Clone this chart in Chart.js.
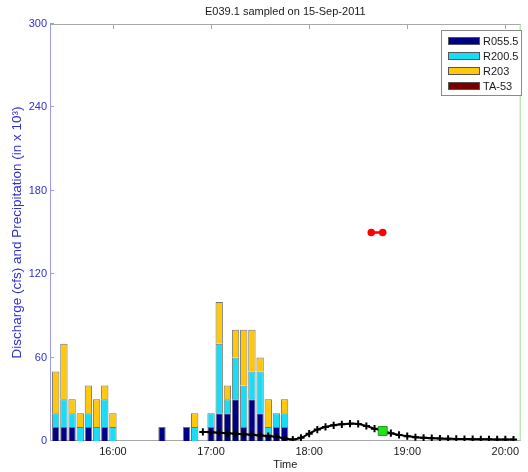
<!DOCTYPE html>
<html>
<head>
<meta charset="utf-8">
<script src="https://cdn.jsdelivr.net/npm/chart.js@4/dist/chart.umd.min.js"></script>
<style>
  html, body { margin: 0; padding: 0; background: #ffffff; }
  #wrap { width: 528px; height: 472px; }
</style>
</head>
<body>
<div id="wrap"><canvas id="c" width="528" height="472"></canvas></div>
<script>
// ---------------- data ----------------
const chartTitle = 'E039.1 sampled on 15-Sep-2011';
const yAxisTitle = 'Discharge (cfs) and Precipitation (in x 10\u00B3)';
const xAxisTitle = 'Time';

const seriesNames = ['R055.5', 'R200.5', 'R203', 'TA-53'];

const barTimes = ['15:25','15:30','15:35','15:40','15:45','15:50','15:55','16:00',
                  '16:30','16:45','16:50',
                  '17:00','17:05','17:10','17:15','17:20','17:25','17:30','17:35','17:40','17:45'];
const r0555 = [10,10,10, 0,10, 0,10, 0,  10,10, 0,  10,20,20,30,10,30,20, 5,10,10];
const r2005 = [10,20,10,10,10,10,20,10,   0, 0,10,  10,50,10,30,30,20,30, 5,10,10];
const r203  = [30,40,10,10,20,20,10,10,   0, 0,10,   0,30,10,20,40,30,10,20, 0,10];
const ta53  = [ 0, 0, 0, 0, 0, 0, 0, 0,   0, 0, 0,   0, 0, 0, 0, 0, 0, 0, 0, 0, 0];

const dischargeTimes = ['16:55','17:00','17:05','17:10','17:15','17:20','17:25','17:30','17:35','17:40',
                        '17:45','17:50','17:55','18:00','18:05','18:10','18:15','18:20','18:25','18:30',
                        '18:35','18:40','18:45','18:50','18:55','19:00','19:05','19:10','19:15','19:20',
                        '19:25','19:30','19:35','19:40','19:45','19:50','19:55','20:00','20:05'];
const dischargeValues = [6.5,6.3,6.0,5.5,5.2,4.8,4.5,4.0,3.5,3.0,
                         1.8,1.0,2.3,5.3,8.2,10.1,11.3,12.0,12.5,12.3,
                         10.8,8.9,7.2,5.6,4.4,3.5,2.7,2.3,2.0,1.8,
                         1.6,1.5,1.4,1.3,1.2,1.2,1.1,1.1,1.0];

const sampleTimes = ['18:38','18:45'];
const sampleValues = [150, 150];

const markerTime = ['18:45'];
const markerValue = [7.2];

const xTickLabels = ['16:00','17:00','18:00','19:00','20:00'];
const yTickValues = [0, 60, 120, 180, 240, 300];
const xRange = ['15:21.5', '20:09.4'];

// ---------------- helpers ----------------
function toMin(s) {
  const p = s.split(':');
  return parseInt(p[0], 10) * 60 + parseFloat(p[1]);
}
function fmt(m) {
  const h = Math.floor(m / 60), mm = Math.round(m - h * 60);
  return String(h).padStart(2, '0') + ':' + String(mm).padStart(2, '0');
}
function pts(times, vals) {
  return times.map((t, i) => ({ x: toMin(t), y: vals[i] === 0 ? null : vals[i] }));
}

const FONT = "'Liberation Sans', Arial, sans-serif";
const BLUE = '#2f2fd0';
const barColors = ['#000088', '#19dcf5', '#ffc80a', '#7a0000'];
const barSeries = [r0555, r2005, r203, ta53];

const datasets = [];
datasets.push({
  type: 'line', label: 'discharge', data: pts(dischargeTimes, dischargeValues),
  borderColor: '#000000', borderWidth: 2, tension: 0.3,
  pointStyle: 'cross', pointRadius: 3.6, pointBorderWidth: 2, pointBorderColor: '#000000',
  stack: 'q', order: 1
});
datasets.push({
  type: 'line', label: 'sample', data: pts(sampleTimes, sampleValues),
  borderColor: '#ff0000', borderWidth: 2.5, pointRadius: 3.8,
  pointBackgroundColor: '#ff0000', pointBorderColor: '#ff0000', pointBorderWidth: 0,
  stack: 's', order: 1
});
datasets.push({
  type: 'line', label: 'marker', data: pts(markerTime, markerValue), showLine: false,
  pointStyle: 'rect', pointRadius: 6.3, pointBackgroundColor: '#22e022',
  pointBorderColor: '#14a014', pointBorderWidth: 1, stack: 'm', order: 0
});
seriesNames.forEach((name, k) => {
  datasets.push({
    type: 'bar', label: name, data: pts(barTimes, barSeries[k]),
    backgroundColor: barColors[k], borderColor: 'rgba(80,80,80,0.8)', borderWidth: 1,
    barPercentage: 0.9, categoryPercentage: 1.0, stack: 'precip', order: 2,
    isLegend: true
  });
});

// ---------------- plugins ----------------
const framePlugin = {
  id: 'frame',
  beforeDatasetsDraw(chart) {
    const { ctx, chartArea: a, scales } = chart;
    ctx.save();
    ctx.lineWidth = 1;
    ctx.strokeStyle = '#a8a8a8';
    ctx.beginPath();
    ctx.moveTo(a.left, a.top + 0.5); ctx.lineTo(a.right, a.top + 0.5);
    ctx.moveTo(a.left, a.bottom - 0.5); ctx.lineTo(a.right, a.bottom - 0.5);
    ctx.stroke();
    ctx.beginPath();
    xTickLabels.forEach(t => {
      const x = Math.round(scales.x.getPixelForValue(toMin(t))) + 0.5;
      ctx.moveTo(x, a.top); ctx.lineTo(x, a.top + 5);
    });
    ctx.stroke();
    ctx.strokeStyle = '#9a9aee';
    ctx.beginPath();
    ctx.moveTo(a.left + 0.5, a.top); ctx.lineTo(a.left + 0.5, a.bottom);
    yTickValues.forEach(v => {
      const y = Math.round(scales.y.getPixelForValue(v)) - 0.5;
      ctx.moveTo(a.left, y); ctx.lineTo(a.left + 4, y);
    });
    ctx.stroke();
    ctx.strokeStyle = '#9ad99a';
    ctx.beginPath();
    ctx.moveTo(a.right - 0.5, a.top); ctx.lineTo(a.right - 0.5, a.bottom);
    ctx.stroke();
    ctx.restore();
  },
  afterDraw(chart) {
    const { ctx, chartArea: a } = chart;
    ctx.save();
    ctx.fillStyle = '#1a1a1a';
    ctx.font = '11px ' + FONT;
    ctx.textAlign = 'center';
    ctx.textBaseline = 'middle';
    ctx.fillText(chartTitle, (a.left + a.right) / 2, 12);
    const bx = 441.5, by = 30.5, bw = 80, bh = 65;
    ctx.fillStyle = '#ffffff';
    ctx.fillRect(bx, by, bw, bh);
    ctx.strokeStyle = '#8a8a8a';
    ctx.lineWidth = 1;
    ctx.strokeRect(bx, by, bw, bh);
    const items = chart.data.datasets.filter(d => d.isLegend);
    items.forEach((d, i) => {
      const cy = 41 + i * 15;
      ctx.fillStyle = d.backgroundColor;
      ctx.fillRect(448, cy - 4, 32, 8);
      ctx.strokeStyle = '#555555';
      ctx.strokeRect(448.5, cy - 3.5, 31, 7);
      ctx.fillStyle = '#1a1a1a';
      ctx.textAlign = 'left';
      ctx.textBaseline = 'middle';
      ctx.font = '11px ' + FONT;
      ctx.fillText(d.label, 483, cy + 0.5);
    });
    ctx.restore();
  }
};

new Chart(document.getElementById('c'), {
  type: 'bar',
  data: { datasets },
  plugins: [framePlugin],
  options: {
    responsive: false,
    animation: false,
    devicePixelRatio: 1,
    layout: { padding: { top: 24, right: 2, left: 0, bottom: 0 } },
    plugins: { legend: { display: false }, title: { display: false }, tooltip: { enabled: false } },
    scales: {
      x: {
        type: 'linear', stacked: true, offset: false,
        min: toMin(xRange[0]), max: toMin(xRange[1]),
        grid: { display: false, drawTicks: false }, border: { display: false },
        afterBuildTicks: s => { s.ticks = xTickLabels.map(t => ({ value: toMin(t) })); },
        ticks: { callback: v => fmt(v), color: '#1a1a1a', font: { size: 11, family: FONT }, padding: 4, maxRotation: 0, autoSkip: false },
        title: { display: true, text: xAxisTitle, color: '#1a1a1a', font: { size: 11, family: FONT }, padding: { top: 0, bottom: 0 } },
        afterFit: s => { s.height = 31; }
      },
      y: {
        stacked: true, min: 0, max: 300,
        grid: { display: false, drawTicks: false }, border: { display: false },
        afterBuildTicks: s => { s.ticks = yTickValues.map(v => ({ value: v })); },
        ticks: { color: BLUE, font: { size: 11, family: FONT }, padding: 3 },
        title: { display: true, text: yAxisTitle, color: BLUE, font: { size: 13.5, family: FONT }, padding: { top: 9, bottom: 0 } },
        afterFit: s => { s.width = 50; }
      }
    }
  }
});
</script>
</body>
</html>
